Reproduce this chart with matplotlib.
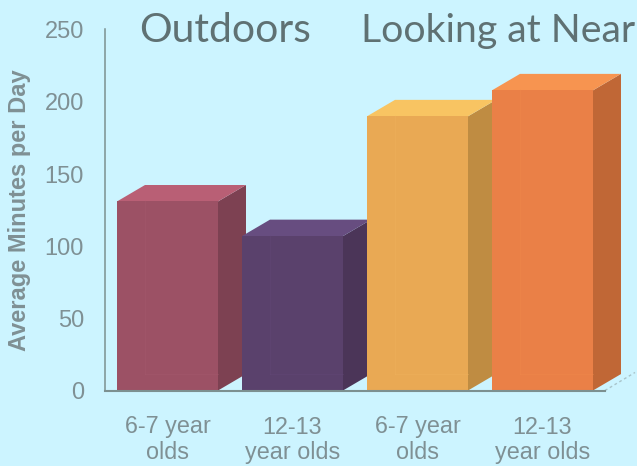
"""
plot.py

Bar chart of average minutes per day, drawn as 3D-looking boxes on a pale blue background.
"""

import matplotlib
matplotlib.use("Agg")
import matplotlib.pyplot as plt
from matplotlib.patches import Polygon

categories = ["6-7 year\nolds", "12-13\nyear olds", "6-7 year\nolds", "12-13\nyear olds"]
minutes = [131, 107, 190, 208]
y_ticks = [0, 50, 100, 150, 200, 250]
group_titles = ["Outdoors", "Looking at Near"]

front_colors = ["#9C5165", "#5A416C", "#E9A954", "#EA8047"]
top_colors = ["#B95F75", "#674D80", "#F8C462", "#F79450"]
side_colors = ["#7D4152", "#4B3558", "#BF8C42", "#C06736"]
edge_colors = ["#A65A6E", "#64497A", "#F0B45E", "#F08A4C"]

BG = "#CCF4FF"
AXIS = "#7C9090"
TEXT = "#7F9094"
TITLE = "#5F7173"

BAR_W = 0.808
DEPTH_X = 0.224
DEPTH_Y = 11.4

fig = plt.figure(figsize=(6.37, 4.66), dpi=100, facecolor=BG)
ax = fig.add_axes([105 / 637, 1 - 390.5 / 466, 500 / 637, 361.5 / 466], facecolor="none")
ax.set_xlim(-0.5, 3.5)
ax.set_ylim(0, 250.5)

for i, val in enumerate(minutes):
    x0 = i - BAR_W / 2
    x1 = i + BAR_W / 2
    # side face, then top face, then front face
    ax.add_patch(Polygon([(x1, 0), (x1 + DEPTH_X, DEPTH_Y), (x1 + DEPTH_X, val + DEPTH_Y), (x1, val)],
                         facecolor=side_colors[i], edgecolor="none", clip_on=False, zorder=2 + i))
    ax.add_patch(Polygon([(x0, val), (x0 + DEPTH_X, val + DEPTH_Y), (x1 + DEPTH_X, val + DEPTH_Y), (x1, val)],
                         facecolor=top_colors[i], edgecolor="none", clip_on=False, zorder=2 + i))
    ax.add_patch(Polygon([(x0, 0), (x0, val), (x1, val), (x1, 0)],
                         facecolor=front_colors[i], edgecolor="none", clip_on=False, zorder=2 + i))
    # faint back edges that show through the front face
    ax.plot([x0 + DEPTH_X, x0 + DEPTH_X], [DEPTH_Y, val], color=edge_colors[i], lw=0.8, alpha=0.35, zorder=2 + i)
    ax.plot([x0 + DEPTH_X, x1], [DEPTH_Y, DEPTH_Y], color=edge_colors[i], lw=0.8, alpha=0.35, zorder=2 + i)

# dashed floor edge running off to the right
ax.plot([3.5, 3.5 + 0.24], [0, 12.5], color="#A9C4CA", lw=1, ls=(0, (2, 2)), clip_on=False, zorder=1)

for side in ["top", "right"]:
    ax.spines[side].set_visible(False)
ax.spines["left"].set_color(AXIS)
ax.spines["left"].set_linewidth(1.1)
ax.spines["bottom"].set_color(AXIS)
ax.spines["bottom"].set_linewidth(1.5)
ax.spines["left"].set_zorder(10)
ax.spines["bottom"].set_zorder(10)

ax.set_yticks(y_ticks)
ax.set_xticks(range(len(categories)))
ax.set_xticklabels(categories, fontfamily="Liberation Sans", fontsize=16.8, color=TEXT, linespacing=1.16)
ax.tick_params(axis="y", length=0, pad=15.2, labelsize=17, labelcolor=TEXT)
ax.tick_params(axis="x", length=0, pad=18)
for lab in ax.get_yticklabels():
    lab.set_fontfamily("Liberation Sans")

fig.text(20 / 637, 1 - 210 / 466, "Average Minutes per Day", rotation=90, ha="center", va="center",
         fontfamily="Liberation Sans", fontweight="bold", fontsize=17, color=TEXT)

fig.text(225.5 / 637, 1 - 42 / 466, group_titles[0], ha="center", va="baseline", fontfamily="Lato",
         fontsize=29.4, color=TITLE)
fig.text(498.5 / 637, 1 - 42 / 466, group_titles[1], ha="center", va="baseline", fontfamily="Lato",
         fontsize=28.3, color=TITLE)

fig.savefig("out.png", dpi=100, facecolor=BG)
